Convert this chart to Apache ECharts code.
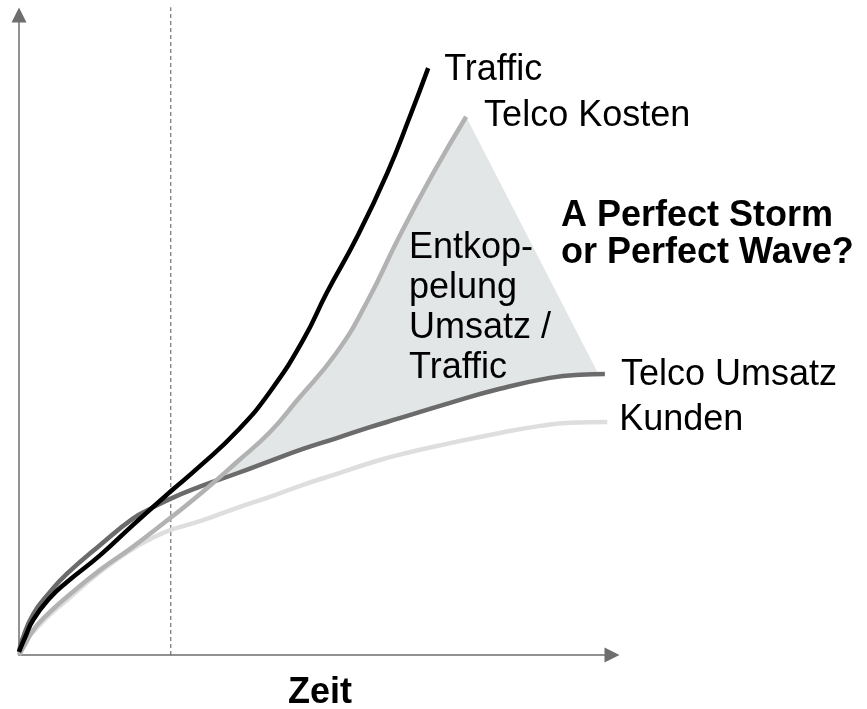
<!DOCTYPE html>
<html><head><meta charset="utf-8">
<script src="https://cdn.jsdelivr.net/npm/echarts@6/dist/echarts.min.js"></script>
<style>html,body{margin:0;padding:0;background:#fff}#c{width:867px;height:709px}</style>
</head><body><div id="c"></div>
<script>
// ---- data (time 0..100, index 0..100) ----
const traffic = [[0,0.5],[1.0,2.7],[2.4,5.5],[5.2,8.9],[8.1,11.4],[13.7,15.6],[19.2,20.3],[25.5,25.5],[30.5,29.5],[36.8,35.0],[42.3,41.1],[47.9,49.2],[51.9,56.6],[57.0,65.3],[62.1,75.3],[65.9,84.1],[69.0,91.7]];
const telcoKosten = [[0,0],[1.0,1.6],[2.4,3.9],[5.2,6.7],[8.1,9.1],[13.7,13.3],[19.2,16.9],[25.5,21.4],[31.0,25.5],[36.8,30.2],[42.3,34.8],[46.9,39.8],[53.6,47.3],[58.7,55.2],[64.2,65.5],[69.8,75.2],[75.4,84.1]];
const telcoUmsatz = [[0,0.5],[0.5,2.3],[2.4,6.4],[5.2,9.8],[8.1,12.7],[13.7,17.2],[19.2,21.3],[22.1,22.8],[25.5,24.4],[30.5,26.3],[36.8,28.4],[42.3,30.3],[47.9,32.2],[53.6,33.9],[59.2,35.6],[64.2,37.0],[72.7,39.4],[81.1,41.6],[89.5,43.3],[94.6,43.8],[98.8,43.9]];
const kunden = [[0,0],[0.5,1.6],[2.4,3.6],[5.2,6.3],[8.1,8.6],[13.7,13.0],[19.2,16.6],[22.1,18.1],[25.5,19.5],[30.5,20.9],[36.8,23.0],[42.3,24.7],[47.9,26.6],[53.6,28.3],[59.2,30.0],[64.2,31.3],[72.7,33.1],[81.1,34.7],[87.9,35.8],[92.9,36.3],[99.2,36.4]];
const markerTime = 25.6;
const markerTop = 101.2;
const shadeCross = [34.2, 27.8];
const shadeCorner = [97.6, 44.1];
const seriesNames = ['Traffic', 'Telco Kosten', 'Telco Umsatz', 'Kunden'];
const decouplingLines = ['Entkop-', 'pelung', 'Umsatz /', 'Traffic'];
const headlineLines = ['A Perfect Storm', 'or Perfect Wave?'];
const xAxisName = 'Zeit';

const FONT = '"Liberation Sans", Arial, Helvetica, sans-serif';

// shaded "decoupling" area between Telco Kosten and Telco Umsatz
const shadeUpper = telcoKosten.filter(p => p[0] > shadeCross[0]);
const shadeLower = telcoUmsatz.filter(p => p[0] > shadeCross[0] && p[0] < shadeCorner[0]).reverse();
const shadePoly = [shadeCross].concat(shadeUpper, [shadeCorner], shadeLower);

const chart = echarts.init(document.getElementById('c'), null, {renderer: 'canvas'});

function lineSeries(name, data, color, width, offset) {
  return {
    type: 'line', name: name, data: data, smooth: 0.5, symbol: 'none',
    lineStyle: {color: color, width: width},
    silent: true, z: 3,
    endLabel: {show: true, formatter: name, fontSize: 36, fontFamily: FONT, color: '#000', distance: 14, offset: offset}
  };
}

const axisCommon = {
  type: 'value', min: 0, max: 100,
  axisLine: {show: true, onZero: true, symbol: ['none', 'triangle'], symbolSize: [15, 15], lineStyle: {color: '#6e6e6e', width: 1.5}},
  axisTick: {show: false}, axisLabel: {show: false}, splitLine: {show: false}
};

chart.setOption({
  animation: false,
  backgroundColor: '#fff',
  grid: {left: 19, top: 15, width: 593, height: 640, containLabel: false, outerBoundsMode: 'none'},
  xAxis: Object.assign({}, axisCommon, {
    name: xAxisName, nameLocation: 'middle', nameGap: 20,
    nameTextStyle: {fontSize: 36, fontWeight: 'bold', fontFamily: FONT, color: '#000', padding: [0, 0, 0, 9]}
  }),
  yAxis: Object.assign({}, axisCommon),
  series: [
    {
      type: 'custom', silent: true, data: [[0, 0]], clip: false, z: 1,
      renderItem: function (params, api) {
        return {type: 'polygon', shape: {points: shadePoly.map(p => api.coord(p))}, style: {fill: '#e3e6e6'}};
      }
    },
    {
      type: 'line', data: [[markerTime, 0], [markerTime, markerTop]], symbol: 'none', clip: false, silent: true, z: 2,
      lineStyle: {color: '#555', width: 1, type: [4, 3]}
    },
    lineSeries(seriesNames[3], kunden, '#dedede', 4.5, [-2, -2]),
    lineSeries(seriesNames[2], telcoUmsatz, '#6b6b6b', 4.5, [2, 1]),
    lineSeries(seriesNames[1], telcoKosten, '#b2b2b2', 4.5, [4, -1]),
    lineSeries(seriesNames[0], traffic, '#000000', 4.5, [2, 2])
  ],
  graphic: [
    {
      type: 'text', left: 409, top: 228, silent: true, z: 100,
      style: {text: decouplingLines.join('\n'), font: '36px ' + FONT, fill: '#000', lineHeight: 40}
    },
    {
      type: 'text', left: 561, top: 198, silent: true, z: 100,
      style: {text: headlineLines.join('\n'), font: 'bold 36px ' + FONT, fill: '#000', lineHeight: 37}
    }
  ]
});
</script>
</body></html>
